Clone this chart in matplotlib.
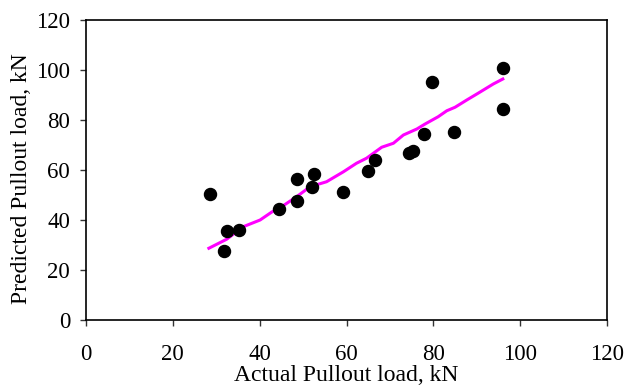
import matplotlib
matplotlib.use("Agg")
import matplotlib.pyplot as plt

# measured points (actual vs predicted pullout load, kN)
actual = [28.5, 32.5, 35.2, 31.8, 44.5, 48.7, 48.7, 52.4, 52.1, 59.2,
          64.9, 66.6, 74.4, 75.4, 77.9, 79.8, 84.7, 96.1, 96.1]
predicted = [50.4, 35.7, 36.1, 27.7, 44.3, 47.7, 56.4, 58.5, 53.1, 51.1,
             59.5, 64.0, 66.8, 67.5, 74.5, 95.2, 75.3, 100.7, 84.3]

# magenta trend line
trend_x = [28.3, 32.4, 36.2, 40.1, 42.8, 45.4, 48.5, 51.6, 55.4, 59.3,
           62.3, 64.6, 68.1, 70.8, 73.1, 76.2, 78.1, 81.1, 83.1, 85.0,
           87.7, 90.3, 93.8, 96.0]
trend_y = [28.7, 32.3, 37.3, 40.0, 43.2, 45.7, 49.3, 53.3, 55.3, 59.3,
           62.7, 64.7, 69.1, 70.7, 74.0, 76.4, 78.4, 81.3, 83.7, 85.1,
           88.0, 90.7, 94.4, 96.4]

ticks = [0, 20, 40, 60, 80, 100, 120]

plt.rcParams['font.family'] = ['Liberation Serif', 'DejaVu Serif']

fig = plt.figure(figsize=(6.24, 3.9), dpi=100)
ax = fig.add_axes([0.1378, 0.1795, 0.835, 0.7692])

ax.plot(trend_x, trend_y, color='#ff00ff', linewidth=2.2, zorder=2)
ax.scatter(actual, predicted, s=75, color='black', zorder=3)

ax.set_xlim(0, 120)
ax.set_ylim(0, 120)
ax.set_xticks(ticks)
ax.set_yticks(ticks)
ax.tick_params(direction='out', length=4.5, width=1, labelsize=16.5,
               color='#333333')
ax.tick_params(axis='x', pad=13)
ax.tick_params(axis='y', pad=7)
for s in ax.spines.values():
    s.set_linewidth(1.2)

ax.set_xlabel('Actual Pullout load, kN', fontsize=17, labelpad=0)
ax.set_ylabel('Predicted Pullout load, kN', fontsize=17, labelpad=3)
ax.yaxis.label.set_y(0.47)

fig.savefig('out.png', dpi=100)
